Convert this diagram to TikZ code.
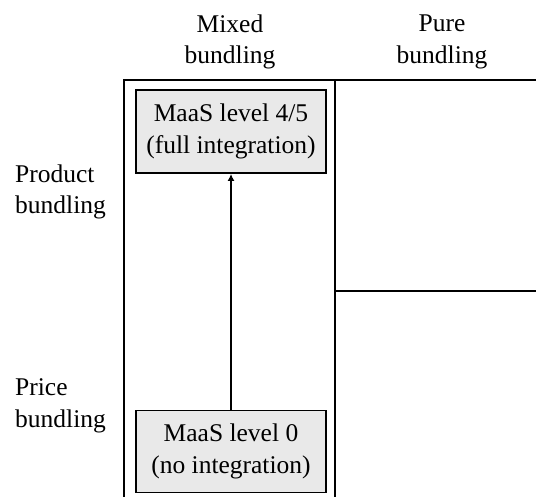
\documentclass[tikz,border=0pt]{standalone}
\usepackage{fontspec}
\setmainfont{Liberation Serif}
\usetikzlibrary{arrows.meta,positioning}

\begin{document}
\begin{tikzpicture}[x=1pt,y=-1pt,
    frame/.style={line width=1.8pt},
    level/.style={draw,line width=1.8pt,fill=gray!17,minimum width=190pt,align=center,inner sep=0pt},
    heading/.style={align=center,inner sep=0pt},
    font=\fontsize{25.5}{31.5}\selectfont]
  \useasboundingbox (0,0) rectangle (536,497);
  % column and row headings
  \node[heading] (mixed) at (230,42) {Mixed\\bundling};
  \node[heading] (pure) at (442,42) {Pure\\bundling};
  \node[heading,align=left,anchor=west] (product) at (15,192) {Product\\bundling};
  \node[heading,align=left,anchor=west] (price) at (15,406) {Price\\bundling};
  % frame
  \draw[frame] (124,497) -- (124,80) -- (536,80);
  \draw[frame] (335,80) -- (335,497);
  \draw[frame] (335,291) -- (536,291);
  % MaaS levels
  \node[level,minimum height=83pt] (full) at (231,131.5) {MaaS level 4/5\\(full integration)};
  \node[level,minimum height=82pt] (none) at (231,451.5) {MaaS level 0\\(no integration)};
  \draw[line width=2pt,-{Latex[length=7pt,width=7pt]}] (none) -- (full);
\end{tikzpicture}
\end{document}
